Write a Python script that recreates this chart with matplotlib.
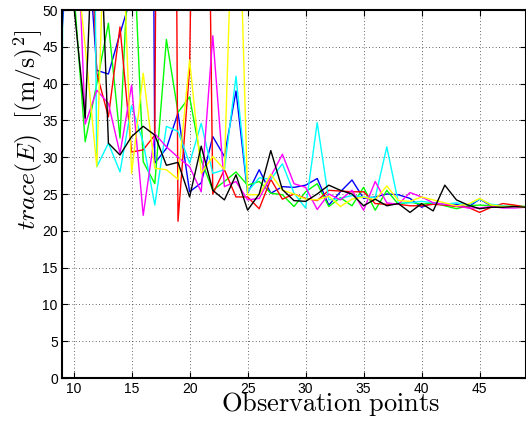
import numpy as np
import matplotlib
matplotlib.use("Agg")
import matplotlib.pyplot as plt

plt.rcParams['mathtext.fontset'] = 'cm'
plt.rcParams['font.family'] = ['Liberation Sans', 'DejaVu Sans']

obs = list(range(9, 50))

blue = [47, 70, 65, 41.8, 41.3, 46.8, 52, 300, 29.2, 31.2, 36.0, 25.3, 26.5, 32.8, 30.1, 39.0,
        25.1, 28.3, 25.1, 26.0, 25.9, 26.2, 27.1, 23.5, 25.3, 26.9, 24.4, 24.6, 25.0, 24.9, 24.4,
        23.2, 23.8, 23.5, 23.6, 23.2, 24.3, 23.4, 23.2, 23.3, 23.2]
green = [90, 53, 32.1, 40, 48.2, 32.6, 65, 29.4, 26.4, 46.0, 36.1, 38.2, 29.6, 25.5, 26.7, 28.0,
         26.2, 26.7, 25.1, 24.9, 23.3, 25.3, 26.4, 23.3, 24.5, 23.4, 25.9, 22.8, 25.5, 23.6, 23.9,
         23.6, 23.8, 23.4, 23.0, 23.4, 23.5, 23.4, 23.3, 23.4, 23.3]
red = [70, 80, 80, 41.4, 35.5, 47.7, 30.7, 31, 33, 300, 21.3, 42, 150, 25.0, 28.3, 24.6,
       24.6, 23.0, 27.0, 24.3, 25.0, 24.4, 24.1, 25.5, 25.4, 25.3, 25.3, 23.7, 23.6, 23.6, 23.4,
       23.4, 23.6, 23.5, 23.3, 23.2, 22.5, 23.2, 23.7, 23.5, 23.2]
cyan = [35.5, 300, 200, 28.7, 31.9, 28.0, 37, 32, 23.5, 34.2, 33.5, 29.2, 34.6, 27.8, 28.3, 41.0,
        25.3, 27.2, 27.0, 29.1, 25.1, 23.1, 34.7, 24.2, 24.4, 24.8, 24.6, 24.5, 31.4, 23.8, 23.8,
        24.0, 23.8, 23.6, 23.8, 23.5, 24.3, 23.6, 23.4, 23.2, 23.2]
magenta = [60, 75, 34.5, 39.1, 37.3, 30.5, 39.8, 22.1, 33.2, 31.4, 30.0, 28.7, 25.3, 46.5, 26.0, 26.7,
           24.2, 24.4, 27.4, 30.4, 26.4, 25.9, 22.9, 25.0, 24.2, 25.5, 22.8, 26.7, 23.8, 23.6, 25.2,
           24.6, 23.8, 23.6, 23.4, 23.1, 23.1, 23.3, 23.1, 23.1, 23.2]
yellow = [70, 60, 45, 28.7, 80, 70, 27.8, 41.4, 28.5, 28.3, 27.0, 43.2, 27.8, 30.1, 28.3, 80,
          24.9, 24.9, 27.7, 25.5, 25.0, 24.3, 24.2, 24.7, 23.3, 24.3, 24.6, 24.2, 26.1, 24.1, 24.0,
          24.6, 24.2, 23.8, 23.4, 23.6, 24.4, 23.5, 23.3, 23.3, 23.2]
black = [60, 51, 35.3, 75, 31.9, 30.3, 32.8, 34.2, 33.0, 28.9, 29.3, 24.6, 31.5, 25.5, 24.2, 27.6,
         22.8, 25.0, 30.9, 25.6, 24.1, 24.0, 25.0, 26.2, 25.5, 25.0, 23.4, 24.3, 23.4, 23.7, 22.5,
         23.7, 22.7, 26.2, 24.2, 23.5, 23.0, 23.2, 23.2, 23.3, 23.2]

series = [(blue, (0, 0, 1)), (green, (0, 1, 0)), (red, (1, 0, 0)), (cyan, (0, 1, 1)),
          (magenta, (1, 0, 1)), (yellow, (1, 1, 0)), (black, (0, 0, 0))]

xticks = [10, 15, 20, 25, 30, 35, 40, 45]
yticks = [0, 5, 10, 15, 20, 25, 30, 35, 40, 45, 50]

fig = plt.figure(figsize=(5.26, 4.21), dpi=100)
ax = fig.add_axes([62 / 526, 1 - 378 / 421, 464 / 526, 368 / 421])

for vals, col in series:
    ax.plot(obs, vals, color=col, lw=1.0)

ax.set_xlim(9, 49)
ax.set_ylim(0, 50)
ax.set_xticks(xticks)
ax.set_yticks(yticks)
ax.tick_params(direction='in', top=True, right=True, labelsize=10, length=4, width=0.8, pad=3)
ax.grid(True, linestyle=(0, (1, 3)), color='black', linewidth=0.6, alpha=0.8)
for sp in ax.spines.values():
    sp.set_linewidth(1.5)

fig.text(331 / 526, 1 - 404 / 421, r'$\mathrm{Observation\ points}$', ha='center', va='center',
         fontsize=19)
fig.text(28 / 526, 1 - 130 / 421, r'$trace(E)\ \ [(\mathrm{m/s})^2]$', ha='center', va='center',
         rotation=90, fontsize=18.5)

fig.savefig('out.png', dpi=100)
